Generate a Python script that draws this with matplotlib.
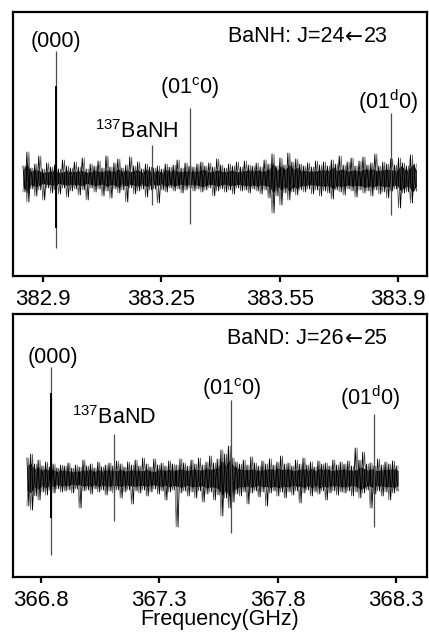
import numpy as np
import matplotlib
matplotlib.use("Agg")
import matplotlib.pyplot as plt

plt.rcParams['font.family'] = ['Liberation Sans', 'DejaVu Sans']
plt.rcParams['mathtext.default'] = 'regular'

# ---------------- data (top: BaNH) ----------------
top_noise_range = (382.844, 383.951)
top_noise_hi = [12, 26, 10, 14, 22, 9, 15, 11,
                13, 9, 18, 12, 10, 16, 11, 20, 9, 14, 12, 17, 10,
                22, 11, 15, 19, 10, 13, 21, 12, 16, 9, 14, 11,
                10, 12, 9, 14, 11, 13, 18, 10, 15, 12, 11, 14, 16,
                12, 15, 11, 19, 13, 10, 14, 12, 16, 11, 17, 13, 12,
                15, 11, 18, 14, 24, 12, 20, 13, 25, 16, 19, 14,
                12, 15, 11, 17, 13, 16, 12, 18, 14, 22, 13, 16, 20, 12, 17,
                21, 13, 15, 24, 12, 16, 14, 19, 13, 20, 15, 12, 23, 14]
top_noise_lo = [-14, -24, -11, -18, -12, -22, -10, -15,
                -12, -16, -10, -19, -13, -11, -17, -12, -22, -10, -14, -11, -18,
                -13, -20, -11, -15, -12, -24, -10, -16, -13, -11, -19, -12,
                -11, -25, -12, -14, -10, -13, -11, -15, -12, -10, -13, -11, -14,
                -12, -10, -18, -13, -11, -14, -12, -16, -10, -13, -12, -15, -11,
                -13, -16, -12, -20, -35, -18, -27, -15, -22, -14, -17, -12,
                -14, -11, -16, -12, -18, -13, -15, -21, -12, -14, -17, -11, -13, -19, -12,
                -15, -13, -18, -12, -16, -14, -20, -13, -11, -30, -15, -14, -25, -13]
top_peak_x = [382.936, 383.206, 383.313, 383.880]
top_peak_hi = [127, 33, 70, 65]
top_peak_lo = [-70, -27, -46, -37]
top_core_hi = [92]
top_core_lo = [-50]
top_tick_labels = ["382.9", "383.25", "383.55", "383.9"]
top_labels = ["(000)", "$^{137}$BaNH", "(01$^{c}$0)", "(01$^{d}$0)"]
top_title = ["BaNH: J=24", "\u2190", "23"]

# ---------------- data (bottom: BaND) ----------------
bot_noise_range = (366.741, 368.309)
bot_noise_hi = [20, 24, 14, 18, 12, 16, 11, 14, 10, 13,
                12, 15, 10, 13, 11, 18, 12, 14, 10, 16, 11, 13, 15, 12, 17,
                14, 11, 16, 13, 18, 12, 20, 14, 11, 19, 13, 15, 12, 17, 14,
                13, 19, 15, 12, 18, 14, 20, 13, 16, 22, 15, 19, 28, 24, 32,
                20, 16, 14, 18, 13, 21, 15, 12, 17, 14, 19, 13, 16, 22, 14,
                15, 12, 18, 14, 20, 13, 16, 11, 17, 14, 15, 12, 18, 13, 16,
                14, 17, 12, 30, 18, 26, 14, 15, 12, 19, 13, 16, 14, 17, 12]
bot_noise_lo = [-28, -32, -18, -22, -14, -17, -12, -15, -11, -14,
                -13, -12, -15, -11, -30, -13, -12, -16, -11, -14, -12, -17, -13, -15, -12,
                -20, -14, -12, -26, -13, -15, -12, -18, -14, -11, -16, -13, -22, -14, -12,
                -49, -15, -13, -18, -14, -20, -13, -24, -16, -14, -22, -17, -38, -20, -30,
                -24, -16, -18, -14, -26, -15, -13, -19, -14, -28, -15, -13, -18, -14, -20,
                -14, -17, -13, -25, -15, -12, -18, -14, -16, -13, -22, -15, -13, -17, -14,
                -15, -13, -18, -14, -20, -15, -12, -30, -16, -13, -18, -14, -22, -15, -13]
bot_peak_x = [366.842, 367.108, 367.605, 368.207]
bot_peak_hi = [111, 44, 78, 64]
bot_peak_lo = [-77, -43, -55, -49]
bot_core_hi = [85]
bot_core_lo = [-40]
bot_ticks = [366.8, 367.3, 367.8, 368.3]
bot_labels = ["(000)", "$^{137}$BaND", "(01$^{c}$0)", "(01$^{d}$0)"]
bot_title = ["BaND: J=26", "\u2190", "25"]

W, H = 429, 635
fig = plt.figure(figsize=(W / 100, H / 100), dpi=100)


def make_ax(top_px, bot_px):
    return fig.add_axes([13 / W, (H - bot_px) / H, 414 / W, (bot_px - top_px) / H])


def draw(ax, rng, hi, lo, px, phi, plo, chi, clo):
    hi = np.asarray(hi, float)
    lo = np.asarray(lo, float)
    n = len(hi)
    xc = np.linspace(rng[0], rng[1], n)
    core = 0.62 * np.minimum(hi, -lo)
    ax.fill_between(xc, core, -core, color='black', lw=0)
    x = np.linspace(rng[0], rng[1], 2 * n)
    y = np.empty(2 * n)
    y[0::2] = hi
    y[1::2] = lo
    ax.plot(x, y, color='black', lw=0.6)
    y2 = np.empty(2 * n)
    y2[0::2] = lo
    y2[1::2] = hi
    ax.plot(x, y2, color='0.3', lw=0.5)
    ax.vlines(px, plo, phi, color='0.3', lw=0.9)
    ax.vlines(px[:len(chi)], clo, chi, color='black', lw=1.4)


def style(ax):
    for s in ax.spines.values():
        s.set_linewidth(1.6)
    ax.set_yticks([])
    ax.tick_params(axis='x', direction='out', length=4, width=1.6,
                   labelsize=16, pad=5)


def title_pieces(ax, x, y, pieces, fs):
    renderer = fig.canvas.get_renderer()
    fams = [['Liberation Sans'], ['DejaVu Sans'], ['Liberation Sans']]
    t = ax.text(x, y, pieces[0], ha='left', va='center', fontsize=fs, family=fams[0])
    for piece, fam in zip(pieces[1:], fams[1:]):
        bb = t.get_window_extent(renderer)
        xd = ax.transData.inverted().transform((bb.x1 + 1, 0))[0]
        t = ax.text(xd, y, piece, ha='left', va='center', fontsize=fs, family=fam)


fs = 15.5
# top panel
ax1 = make_ax(12, 276)
draw(ax1, top_noise_range, top_noise_hi, top_noise_lo, top_peak_x,
     top_peak_hi, top_peak_lo, top_core_hi, top_core_lo)
ax1.set_xlim(382.816, 383.981)
ax1.set_ylim(-98, 166)
ax1.set_xticks(np.linspace(382.9, 383.9, len(top_tick_labels)))
ax1.set_xticklabels(top_tick_labels)
style(ax1)
tpos = [(382.936, 137), (383.164, 46), (383.313, 90), (383.872, 76)]
for (tx, ty), lab in zip(tpos, top_labels):
    ax1.text(tx, ty, lab, ha='center', va='center', fontsize=fs)

# bottom panel
ax2 = make_ax(314, 577)
draw(ax2, bot_noise_range, bot_noise_hi, bot_noise_lo, bot_peak_x,
     bot_peak_hi, bot_peak_lo, bot_core_hi, bot_core_lo)
ax2.set_xlim(366.682, 368.431)
ax2.set_ylim(-99, 164)
ax2.set_xticks(bot_ticks)
ax2.set_xticklabels([f"{t:.1f}" for t in bot_ticks])
style(ax2)
bpos = [(366.851, 121), (367.108, 60), (367.605, 89), (368.191, 80)]
for (tx, ty), lab in zip(bpos, bot_labels):
    ax2.text(tx, ty, lab, ha='center', va='center', fontsize=fs)
ax2.set_xlabel("Frequency(GHz)", fontsize=15.5, labelpad=-1)

title_pieces(ax1, 383.420, 141, top_title, fs)
title_pieces(ax2, 367.588, 139, bot_title, fs)

fig.savefig("out.png", dpi=100)
